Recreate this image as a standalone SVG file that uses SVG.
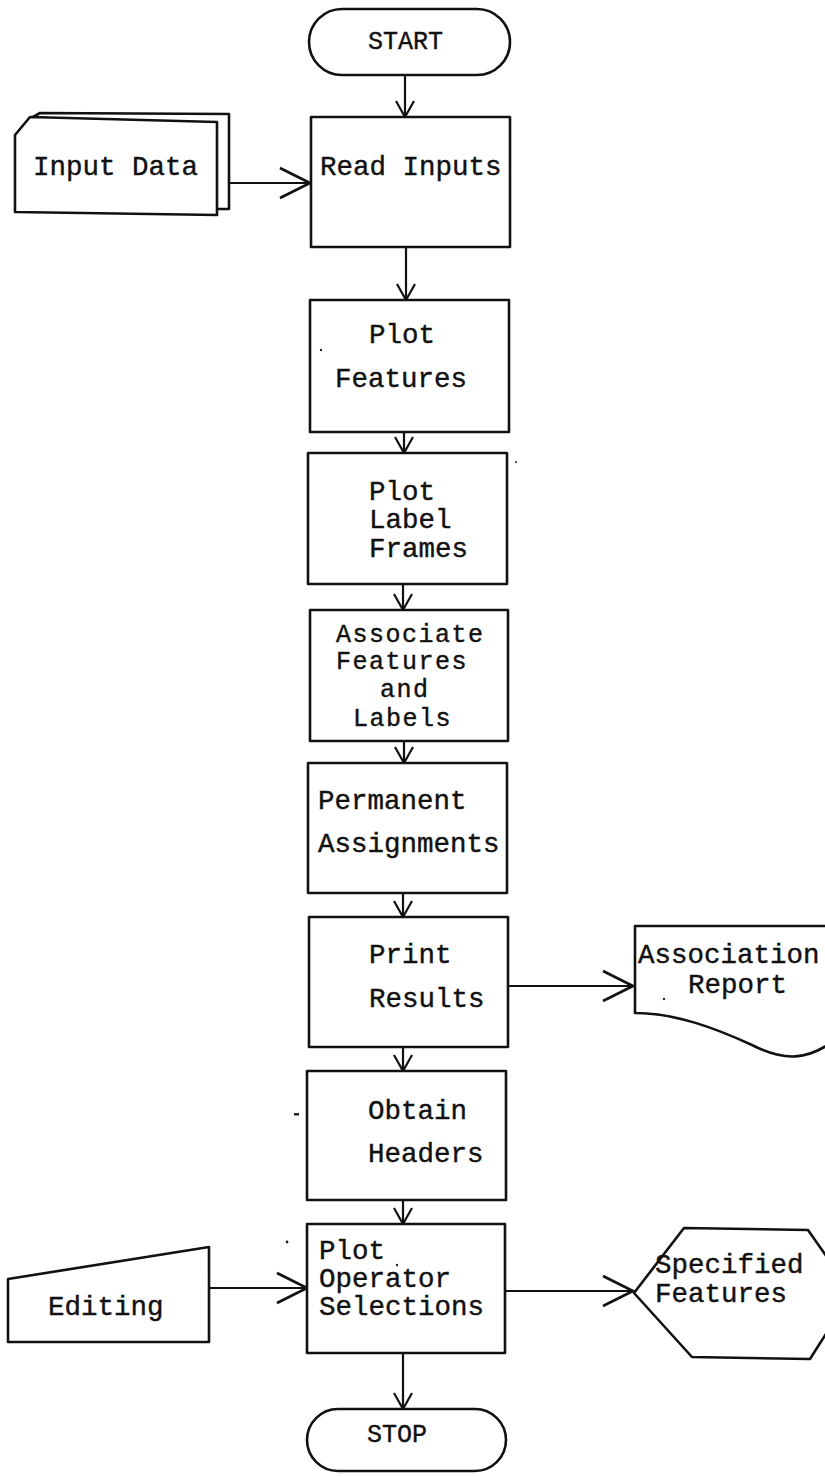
<svg xmlns="http://www.w3.org/2000/svg" width="825" height="1477" viewBox="0 0 825 1477">
  <style>
    .shape { fill: #fff; stroke: #111; stroke-width: 2.6; stroke-linejoin: round; }
    .wire { fill: none; stroke: #111; stroke-width: 2.2; }
    .lbl { font-family: "Liberation Mono", "Courier New", monospace; font-size: 27.5px; fill: #111; stroke: #111; stroke-width: 0.4; }
    .tight { font-size: 25px; letter-spacing: 1.5px; }
    .term { font-size: 25px; }
    .speck { fill: #222; }
  </style>
  <defs>
    <marker id="tip-s" viewBox="-18 -11 20 22" markerWidth="20" markerHeight="22" refX="0" refY="0" orient="auto" markerUnits="userSpaceOnUse">
      <path d="M-16,-9 L0,0 L-16,9" fill="none" stroke="#111" stroke-width="2.2"/>
    </marker>
    <marker id="tip-l" viewBox="-33 -17 35 34" markerWidth="35" markerHeight="34" refX="0" refY="0" orient="auto" markerUnits="userSpaceOnUse">
      <path d="M-30,-15 L0,0 L-30,15" fill="none" stroke="#111" stroke-width="2.6"/>
    </marker>
  </defs>

  <rect width="825" height="1477" fill="#fff"/>

  <!-- connectors -->
  <g id="connectors">
    <line class="wire" x1="405" y1="75" x2="405" y2="117" marker-end="url(#tip-s)"/>
    <line class="wire" x1="406" y1="247" x2="406" y2="300" marker-end="url(#tip-s)"/>
    <line class="wire" x1="404" y1="432" x2="404" y2="453" marker-end="url(#tip-s)"/>
    <line class="wire" x1="403" y1="584" x2="403" y2="610" marker-end="url(#tip-s)"/>
    <line class="wire" x1="404" y1="741" x2="404" y2="763" marker-end="url(#tip-s)"/>
    <line class="wire" x1="403" y1="893" x2="403" y2="917" marker-end="url(#tip-s)"/>
    <line class="wire" x1="403" y1="1047" x2="403" y2="1071" marker-end="url(#tip-s)"/>
    <line class="wire" x1="403" y1="1200" x2="403" y2="1224" marker-end="url(#tip-s)"/>
    <line class="wire" x1="403" y1="1353" x2="403" y2="1409" marker-end="url(#tip-s)"/>
    <line class="wire" x1="229" y1="183" x2="310" y2="183" marker-end="url(#tip-l)"/>
    <line class="wire" x1="508" y1="986" x2="633" y2="986" marker-end="url(#tip-l)"/>
    <line class="wire" x1="209" y1="1288" x2="307" y2="1288" marker-end="url(#tip-l)"/>
    <line class="wire" x1="505" y1="1291" x2="633" y2="1291" marker-end="url(#tip-l)"/>
  </g>

  <g id="start">
    <rect class="shape" x="309" y="9" width="201" height="66" rx="33"/>
    <text class="lbl term" x="368" y="49">START</text>
  </g>

  <g id="input-data">
    <path class="shape" d="M33,117 L40,113 L229,114 L229,209 L217,209"/>
    <path class="shape" d="M30,117 L217,122 L217,215 L15,212 L15,135 Z"/>
    <text class="lbl" x="33" y="175">Input Data</text>
  </g>

  <g id="read-inputs">
    <rect class="shape" x="311" y="117" width="199" height="130"/>
    <text class="lbl" x="320" y="175">Read Inputs</text>
  </g>

  <g id="plot-features">
    <rect class="shape" x="310" y="300" width="199" height="132"/>
    <text class="lbl" x="369" y="343">Plot</text>
    <text class="lbl" x="335" y="387">Features</text>
  </g>

  <g id="plot-label-frames">
    <rect class="shape" x="308" y="453" width="199" height="131"/>
    <text class="lbl" x="369" y="500">Plot</text>
    <text class="lbl" x="369" y="528">Label</text>
    <text class="lbl" x="369" y="557">Frames</text>
  </g>

  <g id="associate">
    <rect class="shape" x="310" y="610" width="198" height="131"/>
    <text class="lbl tight" x="336" y="642">Associate</text>
    <text class="lbl tight" x="336" y="669">Features</text>
    <text class="lbl tight" x="380" y="697">and</text>
    <text class="lbl tight" x="353" y="726">Labels</text>
  </g>

  <g id="permanent">
    <rect class="shape" x="308" y="763" width="199" height="130"/>
    <text class="lbl" x="318" y="809">Permanent</text>
    <text class="lbl" x="318" y="852">Assignments</text>
  </g>

  <g id="print-results">
    <rect class="shape" x="309" y="917" width="199" height="130"/>
    <text class="lbl" x="369" y="963">Print</text>
    <text class="lbl" x="369" y="1007">Results</text>
  </g>

  <g id="association-report">
    <path class="shape" d="M835,926 L635,926 L635,1013 C675,1013 715,1028 752,1045 C785,1062 808,1060 835,1040"/>
    <text class="lbl" x="638" y="963">Association</text>
    <text class="lbl" x="688" y="993">Report</text>
  </g>

  <g id="obtain-headers">
    <rect class="shape" x="307" y="1071" width="199" height="129"/>
    <text class="lbl" x="368" y="1119">Obtain</text>
    <text class="lbl" x="368" y="1162">Headers</text>
  </g>

  <g id="plot-operator-selections">
    <rect class="shape" x="307" y="1224" width="198" height="129"/>
    <text class="lbl" x="319" y="1259">Plot</text>
    <text class="lbl" x="319" y="1287">Operator</text>
    <text class="lbl" x="319" y="1315">Selections</text>
  </g>

  <g id="editing">
    <path class="shape" d="M8,1279 L209,1247 L209,1342 L8,1342 Z"/>
    <text class="lbl" x="48" y="1315">Editing</text>
  </g>

  <g id="specified-features">
    <path class="shape" d="M634,1293 L684,1228 L808,1230 L852,1293 L810,1359 L692,1357 Z"/>
    <text class="lbl" x="655" y="1273">Specified</text>
    <text class="lbl" x="655" y="1302">Features</text>
  </g>

  <g id="stop">
    <rect class="shape" x="307" y="1409" width="199" height="62" rx="31"/>
    <text class="lbl term" x="367" y="1442">STOP</text>
  </g>

  <!-- stray marks -->
  <g id="specks">
    <rect class="speck" x="294" y="1113" width="5" height="2.5"/>
    <circle class="speck" cx="287" cy="1242" r="1.4"/>
    <circle class="speck" cx="397" cy="1265" r="1.2"/>
    <circle class="speck" cx="321" cy="350" r="1.2"/>
    <circle class="speck" cx="516" cy="462" r="1"/>
    <circle class="speck" cx="664" cy="999" r="1.2"/>
  </g>
</svg>
